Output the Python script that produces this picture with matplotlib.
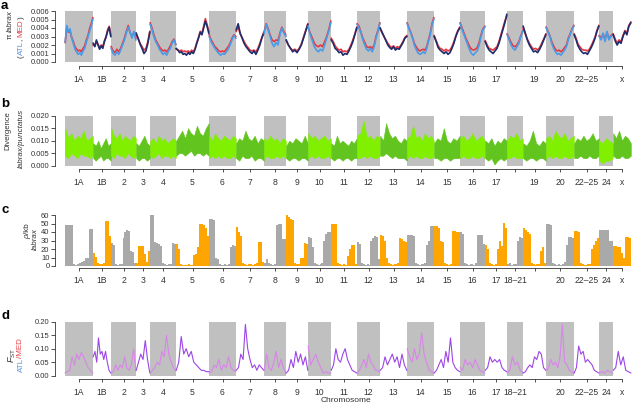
import matplotlib
matplotlib.use('Agg')
import matplotlib.pyplot as plt
import numpy as np

plt.rcParams['font.family'] = ['Liberation Sans', 'DejaVu Sans']
plt.rcParams['mathtext.fontset'] = 'custom'
plt.rcParams['mathtext.rm'] = 'Liberation Sans'
plt.rcParams['mathtext.it'] = 'Liberation Sans:italic'

W, H = 636, 404

chroms = ['1A', '1B', '2', '3', '4', '5', '6', '7', '8', '9', '10', '11', '12', '13',
          '14', '15', '16', '17', '18–21', '19', '20', '22–25', '24', 'x']
chrom_len = [28, 18, 25, 14, 26, 33, 27, 28, 22, 22, 23, 26, 23, 27, 27, 26, 25, 22,
             16, 23, 28, 25, 14, 18]

# labels hidden where they would overlap, per panel
hide_a = ['18–21', '24']
hide_b = ['18–21']
hide_c = ['19']
hide_d = ['19']

# nucleotide diversity (x 1e-3), one list per chromosome
pi_atl = [
    [2.4, 4.3, 3.6, 3.9, 2.8, 2.2, 1.5, 1.2, 0.9, 1.1, 0.8, 1.3, 1.6, 2.3, 2.9, 3.6, 4.2, 5.0],
    [2.2, 1.8, 2.6, 2.0, 1.5, 1.9, 1.6, 2.4, 2.9, 3.6, 4.1, 3.0],
    [1.6, 1.0, 0.8, 1.2, 0.9, 1.4, 2.0, 2.6, 3.4, 4.1, 3.5, 2.8, 3.6, 2.6],
    [3.4, 2.8, 2.1, 1.6, 1.0, 1.3, 2.2, 3.5],
    [4.4, 3.8, 3.0, 2.4, 2.0, 1.5, 1.2, 0.9, 1.1, 0.8, 1.3, 1.6, 2.2, 2.6, 2.0],
    [1.6, 1.4, 1.1, 1.2, 0.9, 1.0, 0.8, 1.1, 0.9, 1.2, 1.0, 1.5, 2.2, 2.8, 3.5, 3.2, 4.0, 4.8, 4.2, 3.4],
    [3.0, 2.4, 2.0, 1.6, 1.3, 1.0, 0.8, 1.0, 0.9, 1.2, 1.5, 2.0, 2.6, 3.1, 2.8],
    [3.8, 4.5, 3.4, 2.8, 2.2, 1.8, 1.5, 1.2, 1.0, 1.3, 0.9, 1.4, 2.0, 2.8, 3.4],
    [3.4, 4.4, 3.8, 3.0, 2.2, 1.8, 2.3, 2.0, 3.2, 4.0, 3.4, 3.0],
    [2.6, 2.0, 1.6, 1.2, 1.4, 1.1, 1.5, 2.0, 2.8, 3.6, 4.4],
    [4.2, 3.2, 2.5, 1.8, 1.4, 1.2, 1.5, 1.3, 2.0, 2.8, 3.6, 4.6],
    [2.6, 2.2, 1.6, 1.4, 1.1, 1.2, 0.8, 1.0, 0.9, 1.3, 1.8, 2.4, 3.2, 4.0],
    [4.4, 4.0, 3.4, 2.6, 2.0, 1.5, 1.3, 1.6, 1.2, 1.8, 2.8, 3.6, 4.5],
    [4.0, 3.5, 3.0, 2.5, 2.0, 1.7, 1.5, 1.8, 1.4, 1.6, 1.5, 1.9, 2.3, 2.8, 3.0],
    [4.5, 3.9, 3.4, 2.8, 2.0, 1.5, 1.1, 0.9, 1.0, 1.2, 1.0, 1.6, 2.4, 3.2, 4.4, 5.0],
    [3.0, 2.4, 1.7, 1.4, 1.2, 1.0, 1.2, 0.9, 1.1, 1.6, 2.2, 3.0, 3.6, 4.0],
    [4.5, 3.8, 3.2, 2.6, 2.0, 1.4, 1.0, 0.8, 1.1, 1.3, 2.0, 3.0, 3.8, 4.1],
    [2.4, 1.8, 1.4, 1.2, 1.0, 1.3, 1.6, 2.2, 3.0, 3.8, 4.6, 5.6],
    [3.2, 2.6, 2.0, 1.6, 1.4, 1.8, 2.2, 3.0, 3.6],
    [4.2, 3.4, 2.6, 2.0, 1.6, 1.2, 1.3, 1.1, 1.5, 2.0, 2.6, 3.2],
    [4.0, 3.5, 3.0, 2.2, 1.6, 1.2, 0.9, 1.0, 0.8, 1.1, 1.4, 1.8, 2.6, 3.2, 3.8, 4.2],
    [3.2, 2.6, 1.9, 1.5, 1.2, 1.0, 1.1, 0.9, 1.3, 1.7, 2.2, 2.8, 3.6, 4.2],
    [3.0, 2.6, 3.4, 2.4, 3.6, 2.6, 3.0, 3.2],
    [3.2, 2.5, 2.0, 2.4, 2.2, 3.0, 3.6, 3.2, 4.2, 4.6],
]
pi_med = [
    [2.3, 4.1, 3.5, 3.6, 2.9, 2.4, 1.8, 1.5, 1.3, 1.4, 1.2, 1.6, 1.9, 2.6, 3.1, 3.9, 4.5, 5.2],
    [2.0, 1.9, 2.4, 2.1, 1.7, 2.0, 1.8, 2.5, 3.0, 3.8, 4.2, 3.2],
    [1.8, 1.3, 1.1, 1.5, 1.2, 1.6, 2.2, 2.8, 3.6, 4.3, 3.4, 3.0, 3.5, 2.8],
    [3.2, 2.7, 2.2, 1.8, 1.4, 1.6, 2.4, 3.6],
    [4.6, 4.0, 3.2, 2.6, 2.2, 1.8, 1.5, 1.3, 1.4, 1.2, 1.5, 1.9, 2.4, 2.7, 2.1],
    [1.5, 1.4, 1.3, 1.4, 1.2, 1.3, 1.2, 1.3, 1.1, 1.4, 1.2, 1.6, 2.3, 2.9, 3.6, 3.4, 4.2, 5.1, 4.4, 3.6],
    [3.2, 2.6, 2.2, 1.8, 1.6, 1.3, 1.2, 1.3, 1.2, 1.5, 1.8, 2.2, 2.8, 3.2, 3.0],
    [3.6, 4.2, 3.3, 2.9, 2.4, 2.0, 1.7, 1.4, 1.3, 1.4, 1.2, 1.6, 2.2, 2.9, 3.5],
    [3.6, 4.5, 3.9, 3.2, 2.6, 2.4, 2.6, 2.5, 3.4, 4.1, 3.6, 3.2],
    [2.5, 2.0, 1.6, 1.4, 1.5, 1.3, 1.6, 2.1, 2.9, 3.7, 4.5],
    [4.0, 3.4, 2.8, 2.2, 1.9, 1.8, 2.0, 1.8, 2.4, 3.0, 3.8, 4.8],
    [2.8, 2.4, 1.9, 1.6, 1.4, 1.5, 1.2, 1.3, 1.2, 1.5, 2.0, 2.6, 3.3, 4.1],
    [4.5, 4.2, 3.5, 2.8, 2.3, 1.8, 1.7, 1.8, 1.6, 2.0, 3.0, 3.7, 4.6],
    [3.9, 3.4, 3.0, 2.6, 2.2, 1.9, 1.7, 1.9, 1.6, 1.8, 1.7, 2.0, 2.4, 2.9, 3.1],
    [4.6, 4.0, 3.5, 2.9, 2.2, 1.8, 1.5, 1.3, 1.4, 1.5, 1.4, 1.8, 2.6, 3.4, 4.5, 5.2],
    [3.1, 2.5, 1.9, 1.6, 1.5, 1.3, 1.5, 1.3, 1.4, 1.8, 2.4, 3.1, 3.7, 4.1],
    [4.6, 4.0, 3.4, 2.8, 2.3, 1.8, 1.5, 1.4, 1.5, 1.7, 2.3, 3.2, 3.9, 4.2],
    [2.5, 2.0, 1.6, 1.5, 1.4, 1.6, 1.8, 2.4, 3.2, 4.0, 4.8, 5.4],
    [3.3, 2.8, 2.3, 1.9, 1.8, 2.0, 2.4, 3.1, 3.7],
    [4.0, 3.3, 2.7, 2.2, 1.8, 1.5, 1.6, 1.4, 1.7, 2.2, 2.7, 3.3],
    [4.1, 3.6, 3.1, 2.4, 1.9, 1.5, 1.3, 1.4, 1.2, 1.4, 1.7, 2.0, 2.8, 3.3, 3.9, 4.3],
    [3.3, 2.8, 2.1, 1.8, 1.5, 1.4, 1.4, 1.3, 1.5, 1.9, 2.4, 2.9, 3.7, 4.3],
    [3.1, 2.8, 3.3, 2.6, 3.5, 2.8, 3.1, 3.3],
    [3.3, 2.7, 2.2, 2.6, 2.4, 3.1, 3.7, 3.4, 4.3, 4.7],
]

# divergence labrax/punctatus (x 1e-3): upper and lower envelope of the dense trace
div_hi = [
    [15, 11, 13, 10, 12, 11, 14, 10, 11, 12],
    [9, 8, 10, 7, 9, 11, 8, 9],
    [15, 12, 11, 13, 10, 12, 11, 10, 12, 11],
    [9, 8, 10, 12, 9, 8],
    [10, 11, 9, 12, 10, 11, 9, 10, 11, 10],
    [10, 12, 14, 11, 15, 13, 12, 16, 13, 12, 15, 17],
    [12, 10, 13, 11, 10, 12, 11, 10, 12, 11],
    [9, 11, 10, 14, 11, 10, 12, 9, 11, 10],
    [11, 10, 12, 10, 11, 9, 11, 10],
    [8, 10, 9, 11, 10, 9, 12, 9],
    [13, 11, 12, 10, 11, 12, 10, 11],
    [9, 8, 12, 9, 10, 9, 8, 10, 9, 11],
    [12, 13, 18, 11, 12, 10, 12, 11],
    [12, 10, 17, 13, 11, 12, 10, 9, 11, 10],
    [11, 12, 16, 11, 12, 10, 13, 11, 12, 10],
    [9, 11, 10, 15, 10, 9, 11, 10, 12],
    [11, 12, 10, 11, 13, 10, 11, 12, 10],
    [10, 9, 11, 8, 10, 9, 11, 10],
    [10, 12, 11, 13, 10, 11],
    [9, 8, 10, 14, 9, 8, 10, 9],
    [11, 12, 10, 14, 12, 11, 13, 10, 11, 12],
    [9, 11, 10, 12, 10, 11, 13, 10, 11],
    [10, 9, 11, 10, 9],
    [13, 11, 14, 10, 12, 11, 9],
]
div_lo = [
    [4, 3, 5, 4, 3, 5, 4, 4, 3, 4],
    [3, 2, 3, 4, 2, 3, 3, 2],
    [4, 3, 5, 4, 4, 3, 5, 4, 3, 4],
    [3, 2, 3, 3, 2, 3],
    [4, 3, 4, 5, 3, 4, 4, 3, 4, 3],
    [4, 5, 5, 4, 5, 6, 4, 5, 5, 4, 5, 4],
    [3, 4, 3, 4, 3, 4, 3, 3, 4, 3],
    [3, 2, 4, 3, 3, 4, 2, 3, 3, 2],
    [3, 4, 3, 3, 4, 3, 4, 3],
    [3, 2, 3, 3, 2, 3, 3, 2],
    [3, 4, 3, 4, 3, 3, 4, 3],
    [3, 2, 3, 3, 2, 3, 3, 2, 3, 3],
    [3, 3, 4, 3, 4, 3, 3, 4],
    [4, 4, 5, 4, 3, 4, 3, 3, 3, 2],
    [3, 4, 3, 4, 3, 3, 4, 3, 3, 4],
    [3, 3, 2, 3, 3, 2, 3, 3, 3],
    [3, 4, 3, 3, 4, 3, 3, 4, 3],
    [3, 2, 3, 0.5, 2, 3, 2, 3],
    [3, 3, 4, 3, 3, 3],
    [3, 2, 3, 3, 2, 3, 3, 2],
    [3, 4, 3, 4, 3, 3, 4, 3, 3, 4],
    [3, 3, 4, 3, 3, 4, 3, 3, 4],
    [2, 1, 2, 2, 3],
    [4, 3, 3, 4, 3, 3, 4],
]

# recombination rate rho/kb, binned
rho = [
    [48, 48, 48, 48, 2, 1, 2, 3, 5, 6, 9, 10, 43, 43],
    [15, 11, 3, 2, 2, 4, 53, 53, 35],
    [27, 25, 2, 1, 2, 2, 33, 40, 42, 41, 18, 17, 3],
    [3, 24, 24, 23, 14, 5, 18],
    [60, 60, 28, 27, 26, 24, 3, 2, 1, 2, 2, 27, 26],
    [26, 20, 2, 1, 1, 1, 2, 1, 13, 14, 22, 49, 49, 48, 45, 35],
    [55, 55, 54, 10, 8, 2, 1, 2, 1, 2, 22, 25, 24],
    [46, 40, 35, 3, 2, 1, 2, 2, 1, 2, 3, 28, 28, 5],
    [4, 8, 3, 2, 1, 2, 48, 50, 50, 32, 32],
    [60, 58, 55, 54, 3, 2, 2, 9, 10, 27, 26],
    [34, 33, 22, 4, 2, 1, 2, 3, 30, 38, 40, 40],
    [50, 50, 49, 3, 2, 1, 2, 1, 12, 20, 25, 25, 2],
    [28, 26, 3, 2, 1, 2, 1, 30, 33, 35, 34, 8],
    [37, 35, 30, 10, 3, 2, 1, 2, 2, 3, 33, 32, 30, 28],
    [37, 37, 36, 35, 3, 2, 1, 2, 2, 3, 25, 30, 47, 47],
    [47, 47, 45, 30, 28, 3, 2, 1, 2, 41, 41, 40, 40],
    [40, 38, 3, 2, 1, 2, 1, 3, 37, 37, 36, 26],
    [25, 20, 3, 2, 1, 2, 20, 30, 24, 51, 45],
    [2, 3, 1, 2, 2, 30, 34, 33],
    [45, 42, 40, 38, 3, 2, 1, 2, 2, 18, 22, 4],
    [50, 50, 48, 3, 2, 1, 2, 1, 2, 5, 25, 34, 34, 33],
    [41, 41, 40, 3, 2, 1, 2, 2, 20, 25, 30, 33],
    [42, 42, 42, 42, 42, 30, 30],
    [24, 23, 22, 22, 15, 10, 34, 34, 33],
]

# Fst ATL/MED (x 1e-2)
fst = [
    [1, 1.5, 2, 7, 4, 8, 6, 8.5, 7, 5, 3, 2, 1],
    [7, 9, 5, 14, 8, 9, 6, 9, 5, 2, 1],
    [1, 1.5, 4, 2, 4, 3, 7, 3, 2, 4, 10, 2],
    [2, 5, 8, 6, 13, 6, 1],
    [1, 2, 3, 5, 4, 9, 7, 15, 8, 5, 3, 2],
    [2, 5, 14.5, 8, 10, 7, 9, 5, 4, 3, 2, 2, 1.5, 1.5],
    [1, 1.5, 4, 3, 6, 2, 4, 3, 7, 3, 2, 1.5],
    [2, 3, 8, 6, 19, 10, 6, 3, 4, 2, 4, 3, 2],
    [2, 8, 3, 2, 5, 9, 3, 6, 3, 1],
    [1, 2, 6, 3, 9, 5, 8, 4, 7, 2],
    [11, 4, 6, 8, 5, 3, 1, 1.5, 1, 1],
    [2, 4, 10, 6, 5, 8, 10, 6, 4, 2, 1.5, 1],
    [1, 2, 4, 6, 3, 8, 5, 4, 2, 2, 1],
    [2, 3, 7, 4, 6, 8, 5, 7, 3, 8, 4, 2],
    [10, 7, 5, 10, 6, 8, 16, 8, 5, 2, 1.5, 1],
    [1, 2, 4, 6, 3, 9, 5, 14, 5, 3, 2, 1.5],
    [3, 2, 6, 4, 5, 3, 6, 4, 2, 1.5, 1],
    [2, 3, 7, 5, 6, 5, 6, 3, 2, 1.5],
    [1, 2, 7, 4, 5, 2, 1],
    [1, 1.5, 3, 4, 3, 7, 6, 9, 8, 3, 2],
    [2, 3, 6, 4, 5, 3, 7, 19, 5, 4, 2, 1.5, 1],
    [1, 3, 11, 8, 9, 5, 6, 5, 4, 2, 1.5, 1],
    [1, 1.5, 1, 2, 1.5, 1],
    [2, 3, 9, 4, 7, 2, 1.5, 1],
]

GRAY = '#c0c0c0'
AX = '#333333'
BLUE_T = '#5b8fd9'
RED_T = '#e8404a'

starts = np.concatenate([[0], np.cumsum(chrom_len)[:-1]])
ends = starts + np.array(chrom_len)
centers = (starts + ends) / 2
total = ends[-1]


def px_axes(fig, left, top, right, bottom):
    return fig.add_axes([left / W, 1 - bottom / H, (right - left) / W, (bottom - top) / H])


def style(ax, ymax, yticks, yfmt, hidden, drop, boxes=True):
    ax.set_xlim(0, total)
    ax.set_ylim(0, ymax)
    if boxes:
        for i in range(0, len(chroms), 2):
            ax.axvspan(starts[i], ends[i], color=GRAY, lw=0, zorder=0)
    for s in ['top', 'right']:
        ax.spines[s].set_visible(False)
    ax.spines['left'].set_position(('outward', 7.2))
    ax.spines['left'].set_bounds(0, ymax)
    ax.spines['bottom'].set_position(('outward', drop))
    ax.spines['bottom'].set_bounds(centers[0], centers[-1])
    for s in ['left', 'bottom']:
        ax.spines[s].set_linewidth(0.6)
        ax.spines[s].set_color(AX)
    ax.set_yticks(yticks)
    ax.set_yticklabels([yfmt.format(v) for v in yticks])
    ax.set_xticks(centers)
    ax.set_xticklabels(['' if c in hidden else c for c in chroms])
    ax.tick_params(axis='y', length=3, width=0.6, pad=1, labelsize=5.5, colors=AX)
    ax.tick_params(axis='x', length=2.5, width=0.6, pad=3.5, labelsize=6.2, colors=AX)
    ax.patch.set_alpha(0)


def xs(i, n):
    return np.linspace(starts[i] + 0.2, ends[i] - 0.2, n)


def stack_text(fig, x, yc, pieces, size=5.8):
    r = fig.canvas.get_renderer()
    texts = []
    for s, col, kw, gap in pieces:
        t = fig.text(0, 0, s, color=col, rotation=90, ha='center', va='bottom',
                     fontsize=size, **kw)
        texts.append((t, gap))
    hs = [t.get_window_extent(r).height + g for t, g in texts]
    y = (H - yc) - sum(hs) / 2
    for (t, g), h in zip(texts, hs):
        t.set_position((x / W, y / H))
        y += h


fig = plt.figure(figsize=(W / 100, H / 100), dpi=100)
IT = {'style': 'italic'}
NO = {}

# panel a
ax = px_axes(fig, 65, 11, 631, 62)
style(ax, 0.006, [0, 0.001, 0.002, 0.003, 0.004, 0.005, 0.006], '{:.3f}', hide_a, 3)
for i in range(len(chroms)):
    x = xs(i, len(pi_med[i]))
    ax.plot(x, np.array(pi_med[i]) * 1e-3, color='#e8373f', lw=1.2, clip_on=False)
for i in range(len(chroms)):
    x = xs(i, len(pi_atl[i]))
    col = '#4a9be8' if i % 2 == 0 else '#1f2d6b'
    ax.plot(x, np.array(pi_atl[i]) * 1e-3, color=col, lw=1.2, clip_on=False)

# panel b
ax = px_axes(fig, 65, 115.7, 631, 165.7)
style(ax, 0.020, [0, 0.005, 0.010, 0.015, 0.020], '{:.3f}', hide_b, 2.5)
for i in range(len(chroms)):
    x = xs(i, len(div_hi[i]))
    col = '#80f000' if i % 2 == 0 else '#62c41e'
    ax.fill_between(x, np.array(div_lo[i]) * 1e-3, np.array(div_hi[i]) * 1e-3,
                    color=col, lw=0.4, clip_on=False)

# panel c
ax = px_axes(fig, 65, 215, 631, 266)
style(ax, 60, [0, 10, 20, 30, 40, 50, 60], '{:d}', hide_c, 1.5, boxes=False)
for i in range(len(chroms)):
    edges = np.linspace(starts[i], ends[i], len(rho[i]) + 1)
    col = '#a9a9a9' if i % 2 == 0 else '#ffa500'
    ax.stairs(rho[i], edges, fill=True, color=col, lw=0)

# panel d
ax = px_axes(fig, 65, 321.7, 631, 375.7)
style(ax, 0.20, [0, 0.05, 0.10, 0.15, 0.20], '{:.2f}', hide_d, 2.5)
for i in range(len(chroms)):
    x = xs(i, len(fst[i]))
    col = '#d985ea' if i % 2 == 0 else '#9d45e6'
    ax.plot(x, np.array(fst[i]) * 1e-2, color=col, lw=0.8, clip_on=False)

fig.text(346 / W, 1 - 403.5 / H, 'Chromosome', ha='center', va='bottom', fontsize=6, color=AX)

# panel letters
for lab, yy in [('a', 6), ('b', 104), ('c', 210), ('d', 316)]:
    fig.text(1 / W, 1 - yy / H, lab, fontsize=9.5, fontweight='bold', ha='left', va='center')

# y labels
stack_text(fig, 10, 25, [('π', AX, NO, 1.5), ('labrax', AX, IT, 0)])
stack_text(fig, 21, 37, [('(', AX, NO, 0), ('ATL', BLUE_T, NO, 0), (',', AX, NO, 1.8),
                         ('MED', RED_T, NO, 0), (')', AX, NO, 0)])
stack_text(fig, 8, 131, [('Divergence', AX, NO, 0)], size=5.5)
stack_text(fig, 21, 138, [('labrax/punctatus', AX, IT, 0)])
stack_text(fig, 28, 231, [('ρ', AX, IT, 0), ('/kb', AX, NO, 0)])
stack_text(fig, 35, 239, [('labrax', AX, IT, 0)])
stack_text(fig, 12, 355, [(r'$F_{\mathrm{ST}}$', AX, NO, 0)], size=6.5)
stack_text(fig, 21, 355, [('ATL', BLUE_T, NO, 0), ('/MED', RED_T, NO, 0)])

fig.savefig('out.png', dpi=100)
